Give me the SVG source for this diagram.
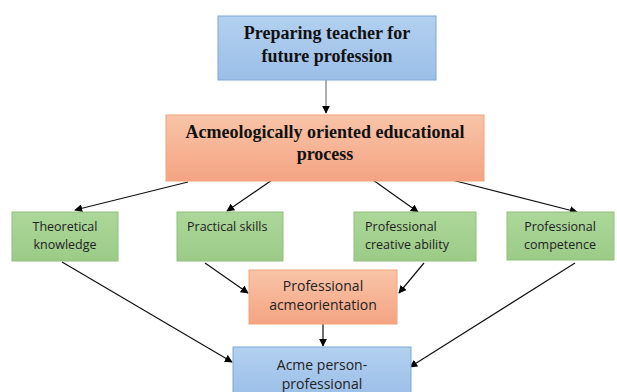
<svg xmlns="http://www.w3.org/2000/svg" width="617" height="392" viewBox="0 0 617 392">
<defs>
<linearGradient id="gBlue" x1="0" y1="0" x2="0" y2="1"><stop offset="0" stop-color="#b3d0f0"/><stop offset="1" stop-color="#9bbfe8"/></linearGradient>
<linearGradient id="gOrange" x1="0" y1="0" x2="0" y2="1"><stop offset="0" stop-color="#f9c4a8"/><stop offset="1" stop-color="#f4a482"/></linearGradient>
<linearGradient id="gGreen" x1="0" y1="0" x2="0" y2="1"><stop offset="0" stop-color="#acd79a"/><stop offset="1" stop-color="#9ccb87"/></linearGradient>
<marker id="arr" viewBox="0 0 10 10" refX="9" refY="5" markerWidth="8" markerHeight="8" markerUnits="userSpaceOnUse" orient="auto"><path d="M0,0 L10,5 L0,10 z" fill="#000"/></marker>
</defs>
<style>
.blue{fill:url(#gBlue);stroke:#7ea6d6;stroke-width:1}
.orange{fill:url(#gOrange);stroke:#f0a47a;stroke-width:1}
.green{fill:url(#gGreen);stroke:#8fc07a;stroke-width:1}
.tb{font-family:"Liberation Serif",serif;font-weight:bold;font-size:18px;fill:#111;text-anchor:middle}
.ts{font-family:"Open Sans","Liberation Sans",sans-serif;font-size:12.5px;fill:#222}
.tm{font-family:"Open Sans","Liberation Sans",sans-serif;font-size:14px;fill:#222;text-anchor:middle}
.c{text-anchor:middle}
.ln{stroke:#111;stroke-width:1.2;fill:none;marker-end:url(#arr)}
</style>
<rect width="617" height="392" fill="#fff"/>
<g id="connectors">
<line class="ln" x1="326" y1="80" x2="326" y2="113" style="stroke:#777"/>
<line class="ln" x1="188" y1="182" x2="75" y2="210"/>
<line class="ln" x1="272" y1="180" x2="227" y2="211"/>
<line class="ln" x1="373" y1="180" x2="418" y2="212"/>
<line class="ln" x1="452" y1="180" x2="577" y2="212"/>
<line class="ln" x1="205" y1="263" x2="248" y2="293"/>
<line class="ln" x1="424" y1="263" x2="399" y2="293"/>
<line class="ln" x1="62" y1="262" x2="232" y2="362"/>
<line class="ln" x1="575" y1="263" x2="410" y2="367"/>
<line class="ln" x1="323" y1="324" x2="323" y2="346"/>
</g>
<g id="n-preparing">
<rect class="blue" x="218" y="16" width="218" height="64"/>
<text class="tb" x="327" y="39">Preparing teacher for</text>
<text class="tb" x="327" y="62">future profession</text>
</g>
<g id="n-process">
<rect class="orange" x="166" y="115" width="318" height="66"/>
<text class="tb" x="325" y="138">Acmeologically oriented educational</text>
<text class="tb" x="325" y="160">process</text>
</g>
<g id="n-theoretical">
<rect class="green" x="12" y="212" width="106" height="49"/>
<text class="ts c" x="65" y="231">Theoretical</text>
<text class="ts c" x="65" y="249">knowledge</text>
</g>
<g id="n-practical">
<rect class="green" x="177" y="212" width="106" height="49"/>
<text class="ts" x="187" y="231">Practical skills</text>
</g>
<g id="n-creative">
<rect class="green" x="354" y="212" width="122" height="49"/>
<text class="ts" x="365" y="231">Professional</text>
<text class="ts" x="365" y="249">creative ability</text>
</g>
<g id="n-competence">
<rect class="green" x="507" y="212" width="107" height="48"/>
<text class="ts c" x="560" y="231">Professional</text>
<text class="ts c" x="560" y="249">competence</text>
</g>
<g id="n-acmeorientation">
<rect class="orange" x="249" y="270" width="148" height="54"/>
<text class="tm" x="323" y="291">Professional</text>
<text class="tm" x="323" y="310">acmeorientation</text>
</g>
<g id="n-acme">
<rect class="blue" x="233" y="347" width="178" height="50"/>
<text class="tm" x="322" y="370">Acme person-</text>
<text class="tm" x="322" y="389">professional</text>
</g>
</svg>
